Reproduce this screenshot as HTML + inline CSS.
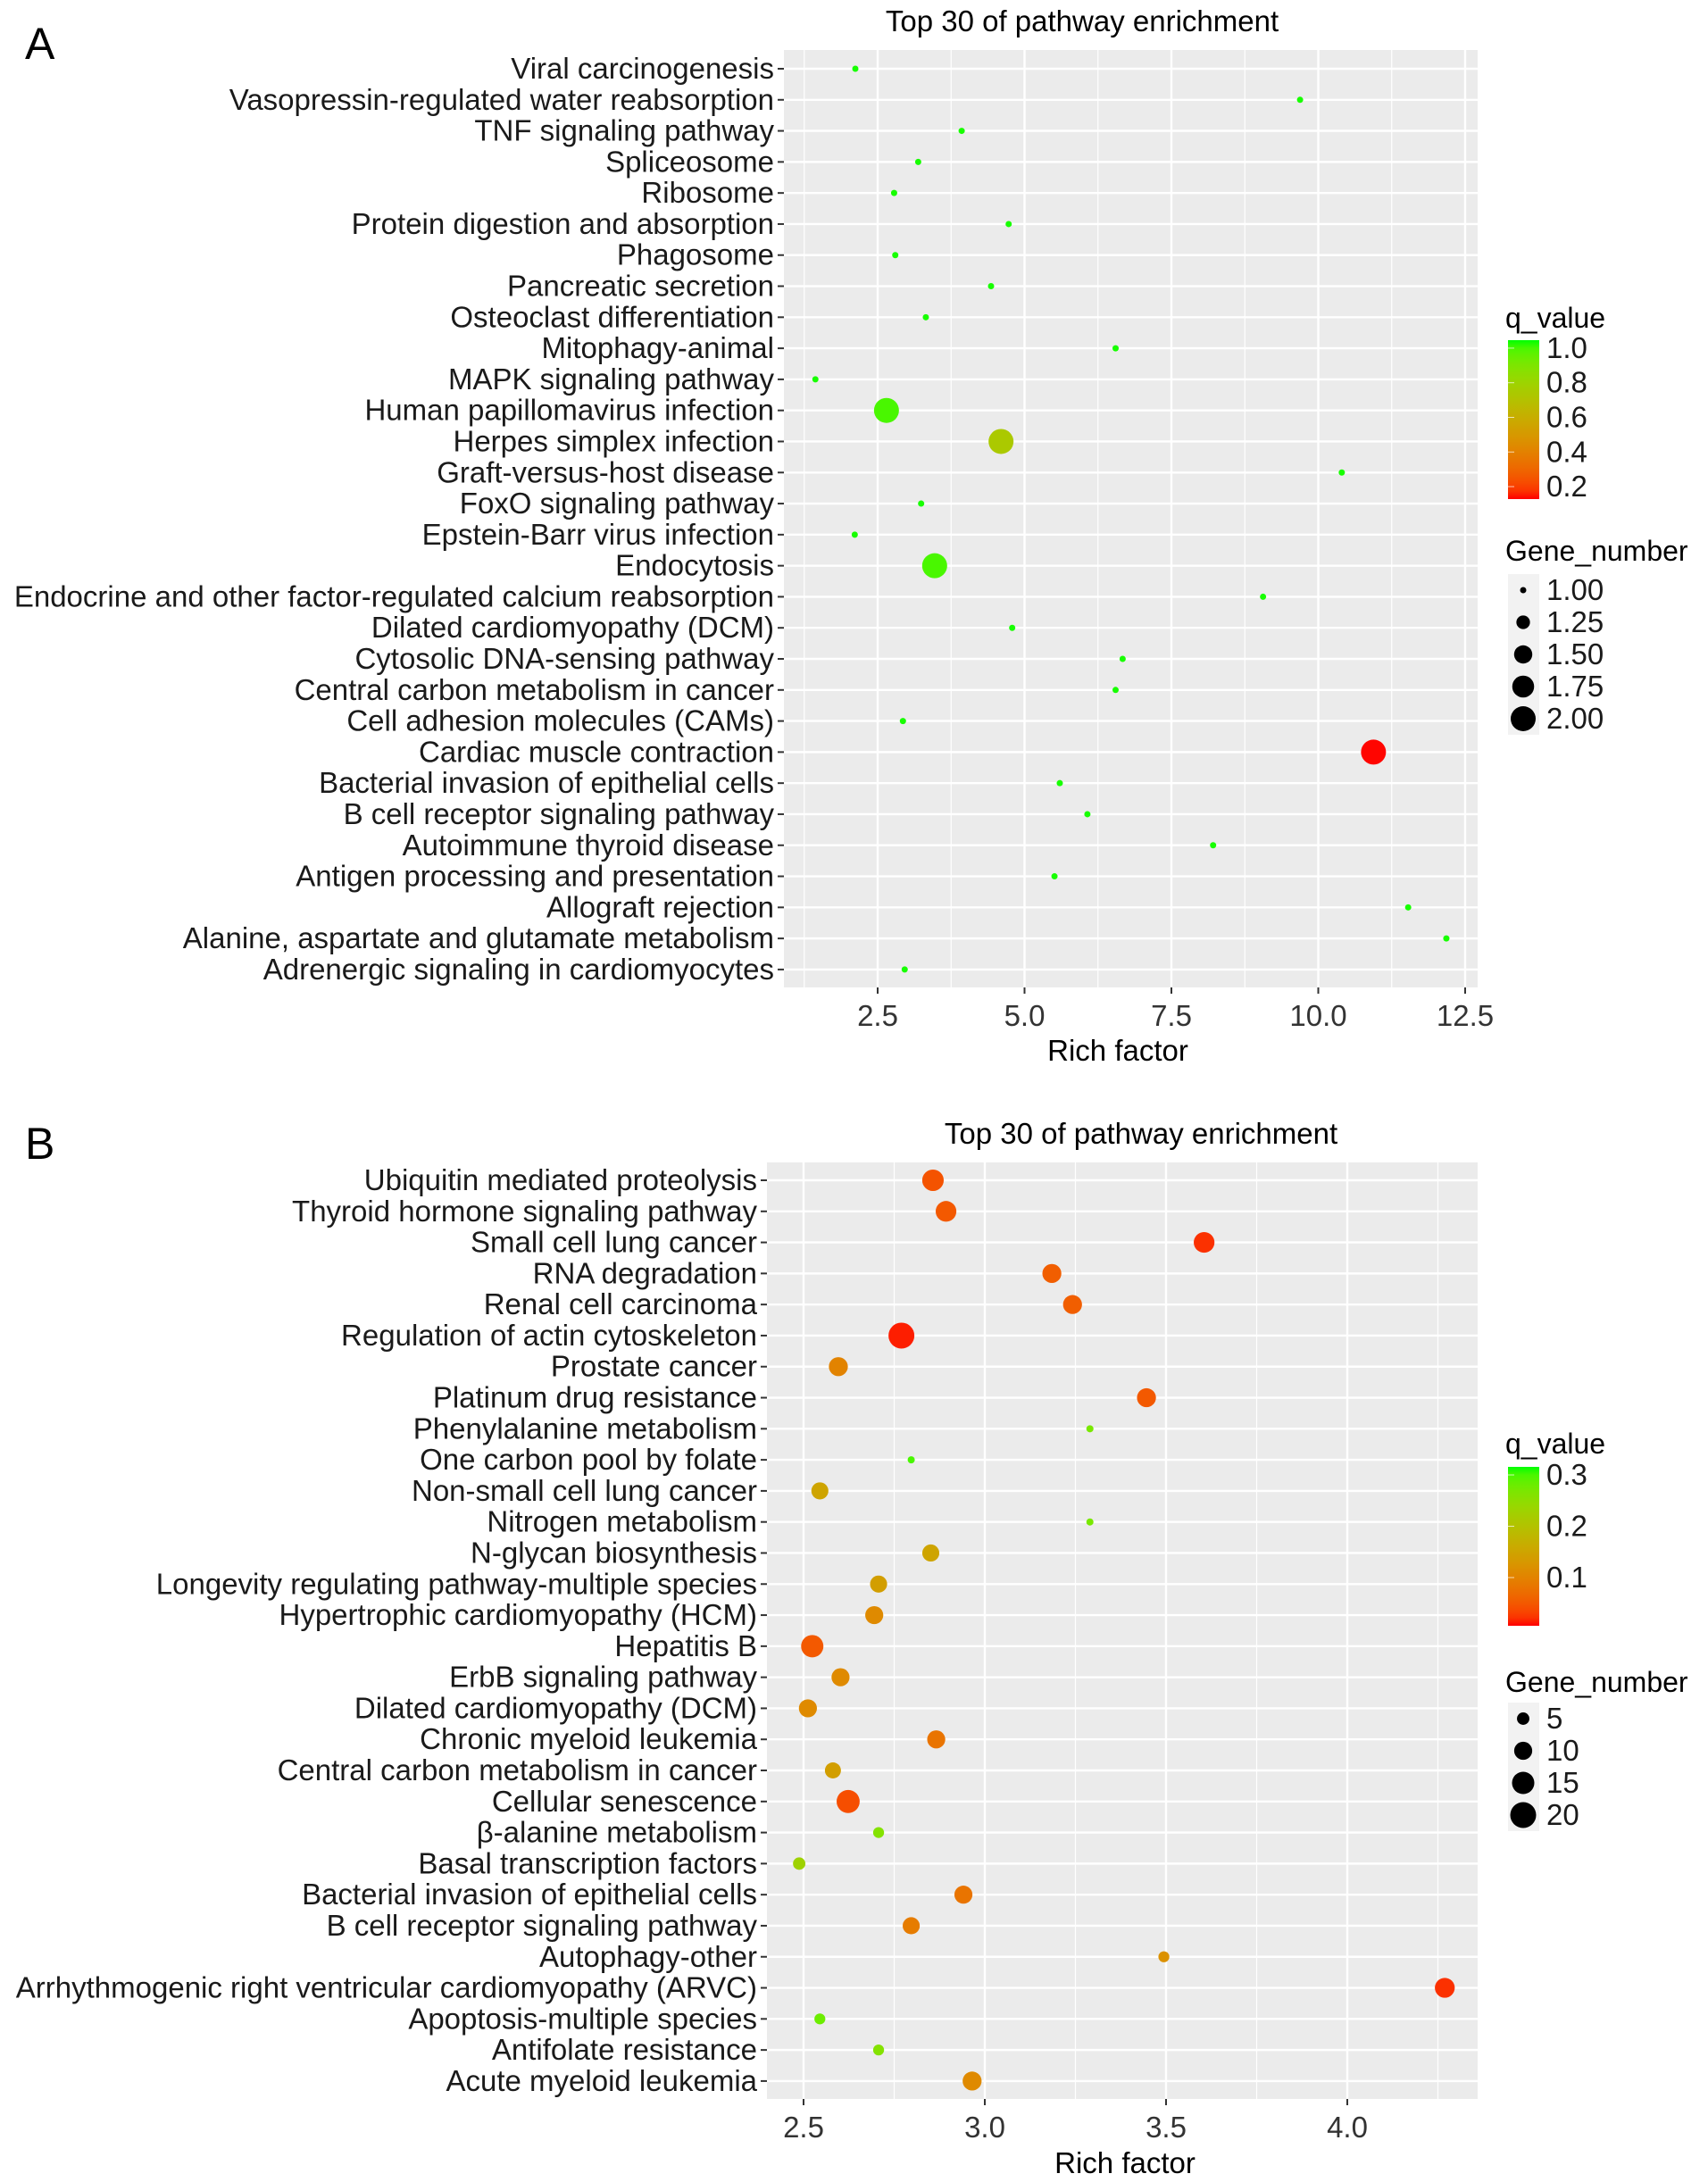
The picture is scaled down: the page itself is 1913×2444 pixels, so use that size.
<!DOCTYPE html>
<html><head><meta charset="utf-8"><title>Pathway enrichment</title>
<style>
html,body{margin:0;padding:0;background:#fff;}
svg{display:block;font-family:"Liberation Sans",Arial,sans-serif;}
</style></head>
<body>
<svg id="fig" width="1913" height="2444" viewBox="0 0 1913 2444" xmlns="http://www.w3.org/2000/svg">
<defs>
<linearGradient id="gradA" x1="0" y1="1" x2="0" y2="0"></linearGradient>
<linearGradient id="gradB" x1="0" y1="1" x2="0" y2="0"></linearGradient>
</defs>
<text x="28" y="66" font-size="50" fill="#000">A</text>
<text x="28" y="1298" font-size="50" fill="#000">B</text>
<g id="panelA"></g>
<g id="panelB"></g>
</svg>
<script>
// ---------- Panel A data ----------
const pathwaysA = ["Viral carcinogenesis","Vasopressin-regulated water reabsorption","TNF signaling pathway","Spliceosome","Ribosome","Protein digestion and absorption","Phagosome","Pancreatic secretion","Osteoclast differentiation","Mitophagy-animal","MAPK signaling pathway","Human papillomavirus infection","Herpes simplex infection","Graft-versus-host disease","FoxO signaling pathway","Epstein-Barr virus infection","Endocytosis","Endocrine and other factor-regulated calcium reabsorption","Dilated cardiomyopathy (DCM)","Cytosolic DNA-sensing pathway","Central carbon metabolism in cancer","Cell adhesion molecules (CAMs)","Cardiac muscle contraction","Bacterial invasion of epithelial cells","B cell receptor signaling pathway","Autoimmune thyroid disease","Antigen processing and presentation","Allograft rejection","Alanine, aspartate and glutamate metabolism","Adrenergic signaling in cardiomyocytes"];
const richA = [2.12,9.69,3.93,3.19,2.78,4.73,2.80,4.43,3.32,6.55,1.44,2.65,4.60,10.4,3.24,2.11,3.47,9.06,4.79,6.67,6.55,2.93,10.94,5.60,6.07,8.21,5.51,11.53,12.18,2.96];
const qA = [1.04,1.04,1.04,1.04,1.04,1.04,1.04,1.04,1.04,1.04,1.04,1.0,0.74,1.04,1.04,1.04,1.0,1.04,1.04,1.04,1.04,1.04,0.13,1.04,1.04,1.04,1.04,1.04,1.04,1.04];
const genesA = [1,1,1,1,1,1,1,1,1,1,1,2,2,1,1,1,2,1,1,1,1,1,2,1,1,1,1,1,1,1];
const xTicksA = [2.5,5.0,7.5,10.0,12.5];
const xTickLabelsA = ["2.5","5.0","7.5","10.0","12.5"];
const qTicksA = [1.0,0.8,0.6,0.4,0.2];
const qTickLabelsA = ["1.0","0.8","0.6","0.4","0.2"];
const sizeBreaksA = [1.00,1.25,1.50,1.75,2.00];
const sizeLabelsA = ["1.00","1.25","1.50","1.75","2.00"];

// ---------- Panel B data ----------
const pathwaysB = ["Ubiquitin mediated proteolysis","Thyroid hormone signaling pathway","Small cell lung cancer","RNA degradation","Renal cell carcinoma","Regulation of actin cytoskeleton","Prostate cancer","Platinum drug resistance","Phenylalanine metabolism","One carbon pool by folate","Non-small cell lung cancer","Nitrogen metabolism","N-glycan biosynthesis","Longevity regulating pathway-multiple species","Hypertrophic cardiomyopathy (HCM)","Hepatitis B","ErbB signaling pathway","Dilated cardiomyopathy (DCM)","Chronic myeloid leukemia","Central carbon metabolism in cancer","Cellular senescence","\u03b2-alanine metabolism","Basal transcription factors","Bacterial invasion of epithelial cells","B cell receptor signaling pathway","Autophagy-other","Arrhythmogenic right ventricular cardiomyopathy (ARVC)","Apoptosis-multiple species","Antifolate resistance","Acute myeloid leukemia"];
const richB = [2.857,2.893,3.605,3.185,3.242,2.77,2.596,3.446,3.29,2.797,2.545,3.29,2.851,2.707,2.695,2.524,2.602,2.512,2.866,2.581,2.623,2.707,2.488,2.941,2.797,3.494,4.269,2.545,2.707,2.965];
const qB = [0.045,0.05,0.02,0.055,0.055,0.012,0.1,0.05,0.27,0.3,0.15,0.27,0.15,0.14,0.11,0.05,0.11,0.11,0.08,0.14,0.04,0.26,0.23,0.08,0.09,0.12,0.02,0.28,0.26,0.11];
const genesB = [14,13,13,11,11,20,11,11,2,2,9,2,9,9,10,15,10,10,10,8,16,4,5,10,9,4,12,4,4,11];
const xTicksB = [2.5,3.0,3.5,4.0];
const xTickLabelsB = ["2.5","3.0","3.5","4.0"];
const qTicksB = [0.3,0.2,0.1];
const qTickLabelsB = ["0.3","0.2","0.1"];
const sizeBreaksB = [5,10,15,20];
const sizeLabelsB = ["5","10","15","20"];

const NS = "http://www.w3.org/2000/svg";
function mk(parent, tag, attrs, text){
  const e = document.createElementNS(NS, tag);
  for (const k in attrs) e.setAttribute(k, attrs[k]);
  if (text !== undefined) e.textContent = text;
  parent.appendChild(e);
  return e;
}
function s2l(c){c/=255;return c<=0.04045?c/12.92:Math.pow((c+0.055)/1.055,2.4);}
function l2s(c){c=c<=0.0031308?12.92*c:1.055*Math.pow(c,1/2.4)-0.055;return Math.round(Math.max(0,Math.min(1,c))*255);}
function toLab(r,g,b){r=s2l(r);g=s2l(g);b=s2l(b);
  let X=(0.4124*r+0.3576*g+0.1805*b)/0.95047,Y=(0.2126*r+0.7152*g+0.0722*b),Z=(0.0193*r+0.1192*g+0.9505*b)/1.08883;
  const f=t=>t>0.008856?Math.cbrt(t):7.787*t+16/116;
  X=f(X);Y=f(Y);Z=f(Z);return [116*Y-16,500*(X-Y),200*(Y-Z)];}
function fromLab(L,a,bb){let Y=(L+16)/116,X=a/500+Y,Z=Y-bb/200;
  const fi=t=>t*t*t>0.008856?t*t*t:(t-16/116)/7.787;
  X=fi(X)*0.95047;Y=fi(Y);Z=fi(Z)*1.08883;
  const r=3.2406*X-1.5372*Y-0.4986*Z,g=-0.9689*X+1.8758*Y+0.0415*Z,b=0.0557*X-0.2040*Y+1.0570*Z;
  return "rgb("+l2s(r)+","+l2s(g)+","+l2s(b)+")";}
const labLow = toLab(255,0,0), labHigh = toLab(0,255,0);
function colorAt(t){t=Math.max(0,Math.min(1,t));
  return fromLab(labLow[0]+(labHigh[0]-labLow[0])*t,labLow[1]+(labHigh[1]-labLow[1])*t,labLow[2]+(labHigh[2]-labLow[2])*t);}

function drawPanel(cfg){
  const g = document.getElementById(cfg.id);
  const {left,right,top,bottom,xmin,xmax,row0,rowStep} = cfg;
  const FS = 33;
  const xs = v => left + (v - xmin) / (xmax - xmin) * (right - left);
  const ys = i => row0 + i * rowStep;
  const qs = q => (q - cfg.qmin) / (cfg.qmax - cfg.qmin);
  const rs = n => Math.sqrt(cfg.rmin*cfg.rmin + (n - cfg.nmin)/(cfg.nmax - cfg.nmin)*(cfg.rmax*cfg.rmax - cfg.rmin*cfg.rmin));

  const title = mk(g,"text",{x:cfg.titleX,y:top-21,"font-size":33,"text-anchor":"middle",fill:"#000"},"Top 30 of pathway enrichment");
  
  
  const bg = mk(g,"rect",{x:left,y:top,width:right-left,height:bottom-top,fill:"#EBEBEB"});
  
  
  const step = cfg.xticks[1]-cfg.xticks[0];
  for (let v = cfg.xticks[0] - step/2; v <= xmax; v += step){
    if (v < xmin) continue;
    const l = mk(g,"line",{x1:xs(v),x2:xs(v),y1:top,y2:bottom,stroke:"#fff","stroke-width":1.2});
    
    
  }
  cfg.xticks.forEach((v,i)=>{
    const l = mk(g,"line",{x1:xs(v),x2:xs(v),y1:top,y2:bottom,stroke:"#fff","stroke-width":2.4});
    
    
    const t = mk(g,"line",{x1:xs(v),x2:xs(v),y1:bottom,y2:bottom+7,stroke:"#333","stroke-width":2});
    
    
    const tl = mk(g,"text",{x:xs(v),y:bottom+43,"font-size":FS,"text-anchor":"middle",fill:"#333"},cfg.xlabels[i]);
    
    
  });
  cfg.names.forEach((n,i)=>{
    const y = ys(i);
    const l = mk(g,"line",{x1:left,x2:right,y1:y,y2:y,stroke:"#fff","stroke-width":2.4});
    
    
    const t = mk(g,"line",{x1:left-7,x2:left,y1:y,y2:y,stroke:"#333","stroke-width":2});
    
    
    const tl = mk(g,"text",{x:left-11,y:y+11,"font-size":FS,"text-anchor":"end",fill:"#1a1a1a"},n);
    
    
  });
  cfg.names.forEach((n,i)=>{
    const c = mk(g,"circle",{cx:xs(cfg.rich[i]),cy:ys(i),r:rs(cfg.genes[i]),fill:colorAt(qs(cfg.q[i]))});
    
    
  });
  const xt = mk(g,"text",{x:cfg.xtitleX,y:cfg.xtitleY,"font-size":33,"text-anchor":"middle",fill:"#000"},"Rich factor");
  
  

  const L = cfg.legend;
  const lt = mk(g,"text",{x:L.x,y:L.qTitleY,"font-size":32,fill:"#000"},"q_value");
  
  
  const grad = document.getElementById(cfg.gradId);
  for (let k=0;k<=20;k++){ mk(grad,"stop",{offset:(k/20),"stop-color":colorAt(k/20)}); }
  const cb = mk(g,"rect",{x:L.x+3,y:L.barTop,width:35,height:L.barBottom-L.barTop,fill:"url(#"+cfg.gradId+")"});
  
  
  const qy = q => L.barBottom - qs(q)*(L.barBottom-L.barTop);
  cfg.qticks.forEach((q,i)=>{
    mk(g,"line",{x1:L.x+3,x2:L.x+10,y1:qy(q),y2:qy(q),stroke:"#fff","stroke-width":1,opacity:0.7});
    const t = mk(g,"text",{x:L.x+46,y:qy(q)+11,"font-size":FS,fill:"#1a1a1a"},cfg.qlabels[i]);
    
    
  });
  const st = mk(g,"text",{x:L.x,y:L.sTitleY,"font-size":32,fill:"#000"},"Gene_number");
  
  
  const nb = cfg.sizeBreaks.length;
  mk(g,"rect",{x:L.x+3,y:L.s0-L.sStep/2,width:35,height:L.sStep*nb,fill:"#F2F2F2"});
  cfg.sizeBreaks.forEach((s,i)=>{
    const y = L.s0 + i*L.sStep;
    const c = mk(g,"circle",{cx:L.x+20,cy:y,r:rs(s),fill:"#000"});
    
    
    const t = mk(g,"text",{x:L.x+46,y:y+11,"font-size":FS,fill:"#1a1a1a"},cfg.sizeLabels[i]);
    
    
  });
}

drawPanel({id:"panelA",gradId:"gradA",left:878,right:1655,top:56,bottom:1106,
  xmin:2.5-105/65.8,xmax:2.5+(1655-983)/65.8,row0:77,rowStep:34.79,
  names:pathwaysA,rich:richA,q:qA,genes:genesA,xticks:xTicksA,xlabels:xTickLabelsA,
  qmin:0.128,qmax:1.046,qticks:qTicksA,qlabels:qTickLabelsA,
  nmin:1,nmax:2,rmin:3.5,rmax:14,sizeBreaks:sizeBreaksA,sizeLabels:sizeLabelsA,
  titleX:1212,xtitleX:1252,xtitleY:1188,
  legend:{x:1686,qTitleY:367,barTop:381,barBottom:559,sTitleY:628,s0:661,sStep:36}});

drawPanel({id:"panelB",gradId:"gradB",left:859,right:1655,top:1302,bottom:2351,
  xmin:2.5-41/406,xmax:2.5+(1655-900)/406,row0:1322,rowStep:34.79,
  names:pathwaysB,rich:richB,q:qB,genes:genesB,xticks:xTicksB,xlabels:xTickLabelsB,
  qmin:0.006,qmax:0.3157,qticks:qTicksB,qlabels:qTickLabelsB,
  nmin:2,nmax:20,rmin:4,rmax:14.5,sizeBreaks:sizeBreaksB,sizeLabels:sizeLabelsB,
  titleX:1278,xtitleX:1260,xtitleY:2434,
  legend:{x:1686,qTitleY:1628,barTop:1643,barBottom:1821,sTitleY:1895,s0:1925,sStep:36}});
</script>
</body></html>
